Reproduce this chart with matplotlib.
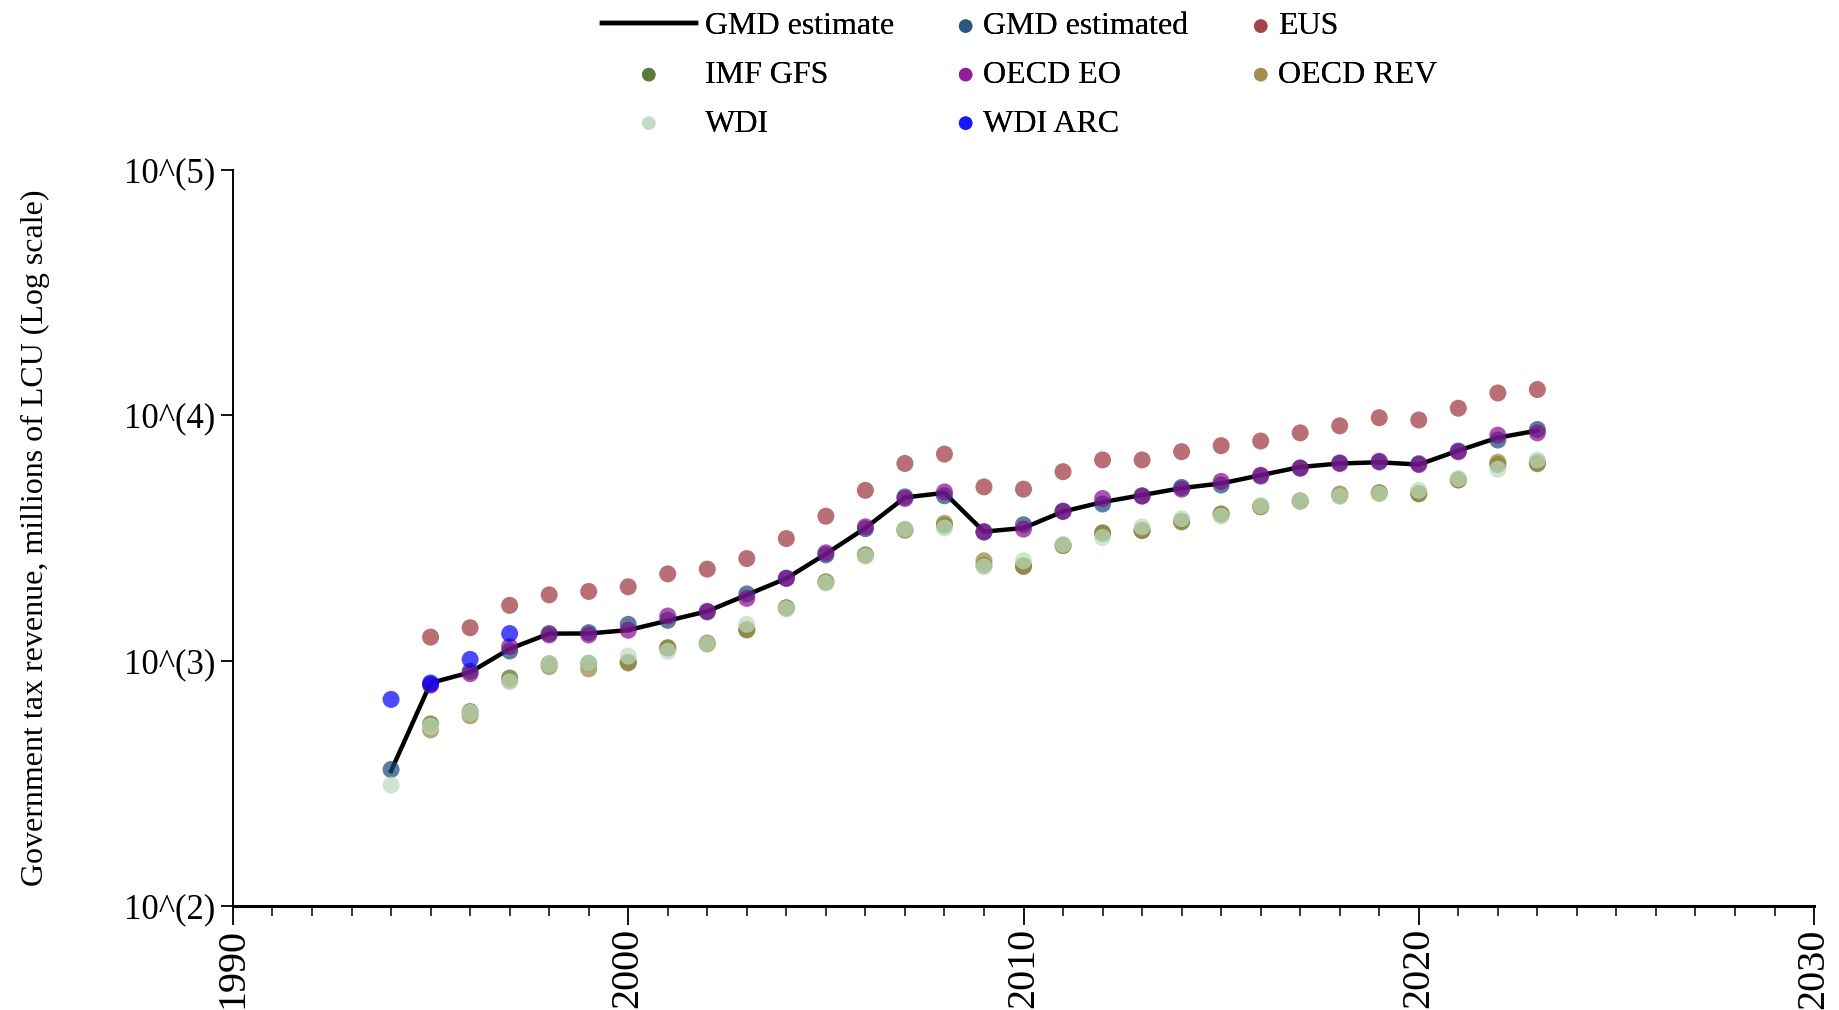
import numpy as np
import matplotlib
matplotlib.use("Agg")
import matplotlib.pyplot as plt
from matplotlib.colors import to_rgba
from matplotlib.ticker import FixedLocator, MultipleLocator, NullLocator

plt.rcParams["font.family"] = ["Liberation Serif", "DejaVu Serif"]

# --- data (millions of LCU) -------------------------------------------------
years_9423 = list(range(1994, 2024))
years_9523 = list(range(1995, 2024))

gmd_estimate = [355, 811, 896, 1117, 1289, 1290, 1332, 1455, 1589, 1854,
                2163, 2723, 3472, 4626, 4830, 3357, 3472, 4053, 4428, 4729,
                5050, 5276, 5700, 6155, 6363, 6436, 6298, 7180, 8106, 8664]

gmd_estimated = [360, 800, 905, 1095, 1290, 1300, 1406, 1460, 1580, 1870,
                 2170, 2700, 3450, 4650, 4700, 3340, 3580, 4070, 4350, 4700,
                 5080, 5200, 5650, 6100, 6400, 6450, 6350, 7150, 7930, 8750]

eus = [1247, 1362, 1680, 1854, 1915, 2000, 2258, 2361, 2607, 3145,
       3880, 4945, 6363, 6950, 5106, 5000, 5890, 6577, 6577, 7110,
       7520, 7855, 8480, 9060, 9780, 9570, 10690, 12330, 12740]

imf_gfs = [552, 620, 850, 970, 975, 985, 1125, 1170, 1340, 1640,
           2090, 2690, 3420, 3560, 2450, 2420, 2950, 3300, 3390, 3700,
           3950, 4250, 4470, 4700, 4830, 4800, 5450, 6300, 6350]

oecd_eo = [795, 885, 1141, 1273, 1273, 1330, 1520, 1589, 1794, 2163,
           2750, 3510, 4580, 4870, 3357, 3436, 4053, 4580, 4680, 5000,
           5380, 5700, 6090, 6360, 6500, 6300, 7100, 8300, 8480]

oecd_rev = [522, 596, 830, 946, 926, 978, 1130, 1180, 1332, 1642,
            2093, 2698, 3398, 3630, 2553, 2443, 2945, 3326, 3398, 3673,
            3964, 4236, 4480, 4780, 4830, 4780, 5460, 6440, 6440]

wdi = [311, 540, 615, 820, 968, 978, 1044, 1092, 1167, 1406,
       1625, 2070, 2666, 3437, 3472, 2415, 2553, 2978, 3177, 3510,
       3793, 3880, 4285, 4480, 4680, 4780, 4945, 5523, 6030, 6577]

wdi_arc_years = [1994, 1995, 1996, 1997]
wdi_arc = [695, 811, 1012, 1289]

y_ticks = [1e2, 1e3, 1e4, 1e5]
y_tick_labels = ["10^(2)", "10^(3)", "10^(4)", "10^(5)"]
x_ticks = [1990, 2000, 2010, 2020, 2030]

# --- figure ----------------------------------------------------------------
fig = plt.figure(figsize=(18.4, 10.1), dpi=100)
ax = fig.add_axes([0.1266, 0.103, 0.9859 - 0.1266, 0.8317 - 0.103])

line, = ax.plot(years_9423, gmd_estimate, color="black", lw=3.2,
                zorder=3, label="GMD estimate")

ALPHA = 0.7
dot = dict(s=150, edgecolors="none", zorder=4)
series = [
    (years_9423, gmd_estimated, "#134876", "GMD estimated"),
    (years_9523, eus, "#9a333a", "EUS"),
    (years_9523, imf_gfs, "#486f24", "IMF GFS"),
    (years_9523, oecd_eo, "#880a8c", "OECD EO"),
    (years_9523, oecd_rev, "#99833e", "OECD REV"),
    (years_9423, wdi, "#bcdbbc", "WDI"),
    (wdi_arc_years, wdi_arc, "#0000ff", "WDI ARC"),
]
handles = {"GMD estimate": line}
for xs, ys, col, lab in series:
    handles[lab] = ax.scatter(xs, ys, color=to_rgba(col, ALPHA), label=lab, **dot)

ax.set_yscale("log")
ax.set_ylim(1e2, 1e5)
ax.set_xlim(1990, 2030)
ax.yaxis.set_major_locator(FixedLocator(y_ticks))
ax.set_yticklabels(y_tick_labels, fontsize=25)
ax.yaxis.set_minor_locator(NullLocator())
ax.xaxis.set_major_locator(FixedLocator(x_ticks))
ax.xaxis.set_minor_locator(MultipleLocator(1))
ax.set_xticklabels([str(x) for x in x_ticks], rotation=90, fontsize=29)

ax.tick_params(axis="y", which="major", direction="out", length=9, width=1.3, pad=4)
ax.tick_params(axis="x", which="major", direction="out", length=14, width=1.3, pad=2)
ax.tick_params(axis="x", which="minor", direction="out", length=7, width=1.1)

for s in ("top", "right"):
    ax.spines[s].set_visible(False)
ax.spines["left"].set_linewidth(1.4)
ax.spines["bottom"].set_linewidth(2.2)

ax.set_ylabel("Government tax revenue, millions of LCU (Log scale)", fontsize=23)
ax.yaxis.set_label_coords(-0.116, 0.5)

# legend: three columns, each its own legend so handle widths can differ
leg_cols = [
    (["GMD estimate", "IMF GFS", "WDI"], 0.327, 2.95, 0.28),
    (["GMD estimated", "OECD EO", "WDI ARC"], 0.5196, 0.6, 0.25),
    (["EUS", "OECD REV"], 0.680, 0.6, 0.25),
]
for labs, x0, hl, tp in leg_cols:
    lg = fig.legend([handles[l] for l in labs], labs, loc="upper left",
                    bbox_to_anchor=(x0, 0.988), frameon=False, fontsize=23,
                    handlelength=hl, handletextpad=tp, labelspacing=0.6,
                    borderpad=0, borderaxespad=0, markerscale=0.8)
    fig.add_artist(lg)

fig.savefig("out.png", dpi=100)
